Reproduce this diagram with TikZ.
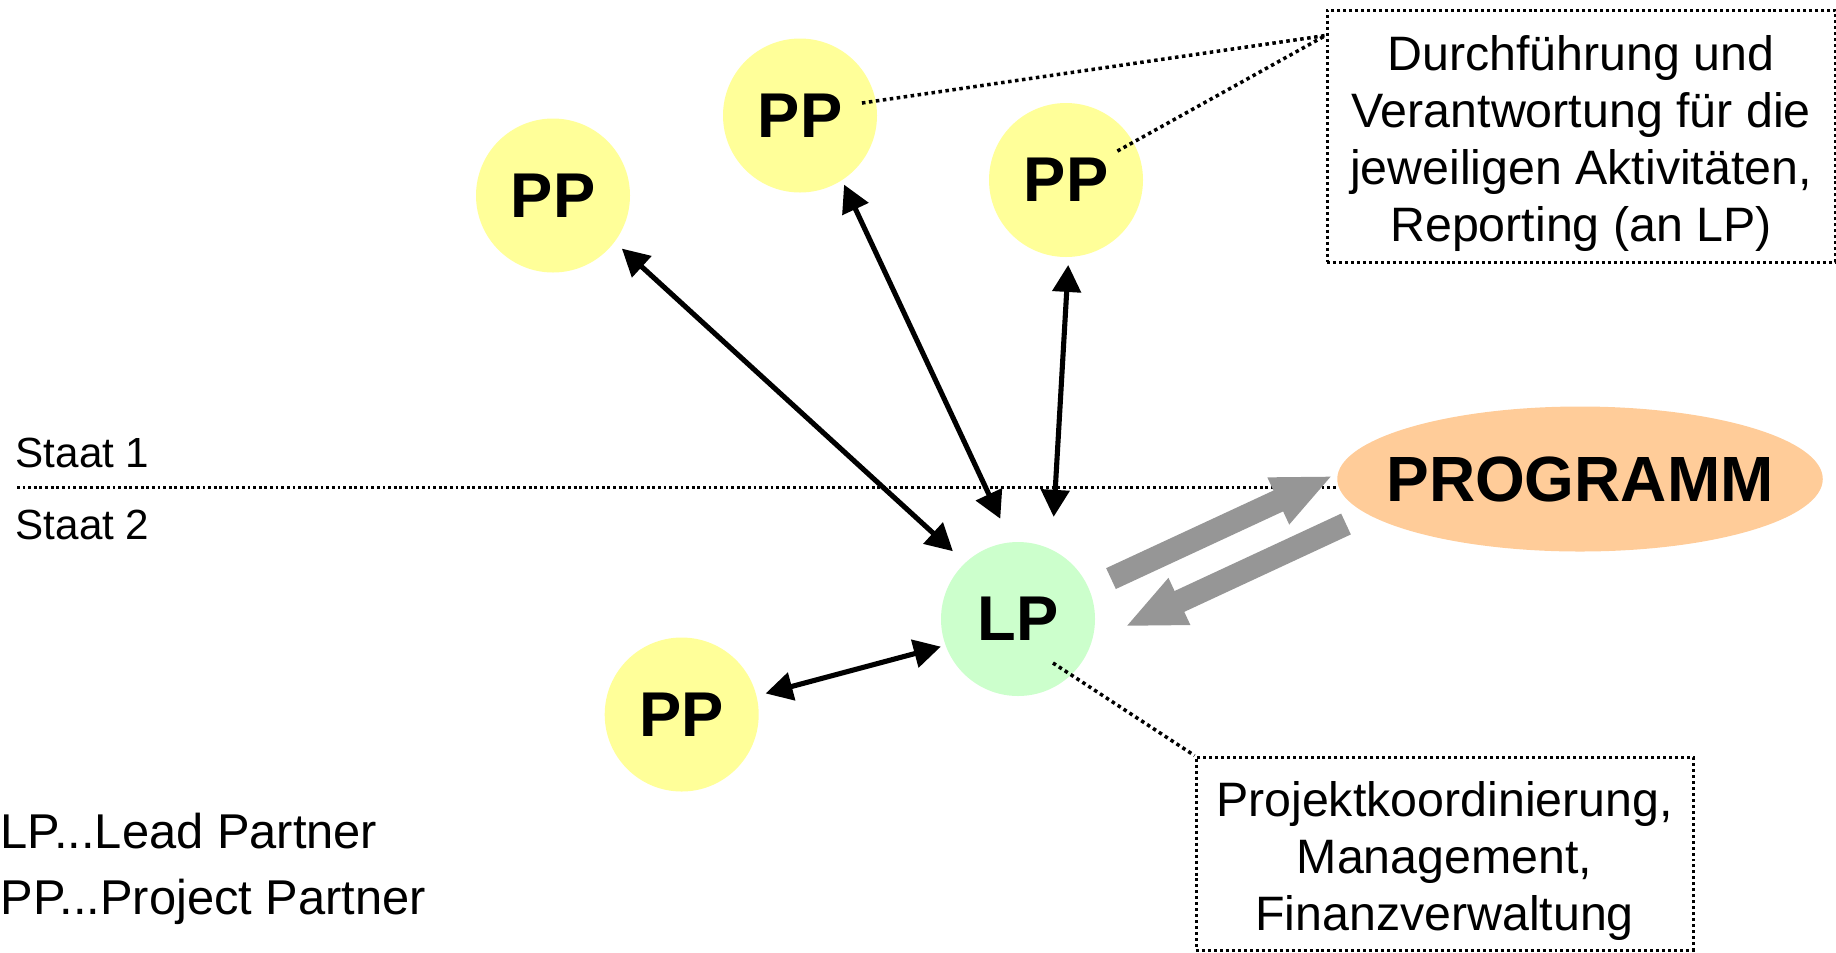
\documentclass[tikz,border=0pt]{standalone}
\usepackage{fontspec}
\setmainfont{Liberation Sans}
\usepackage{xcolor}
\usepackage{tikz}
\usetikzlibrary{positioning, shapes, arrows.meta}
\definecolor{ppyellow}{RGB}{255,255,153}
\definecolor{lpgreen}{RGB}{204,255,204}
\definecolor{progorange}{RGB}{255,204,153}
\definecolor{arrowgray}{RGB}{150,150,150}

\begin{document}
\begin{tikzpicture}[
    pp/.style={circle, fill=ppyellow, minimum size=1.54cm, inner sep=0pt, outer sep=0pt, font=\fontsize{18}{21}\selectfont\bfseries},
    lp/.style={pp, fill=lpgreen},
    prog/.style={ellipse, fill=progorange, minimum width=4.8cm, minimum height=1.45cm, inner xsep=-0.22cm, inner ysep=0pt, outer sep=0pt, font=\fontsize{18.2}{21}\selectfont\bfseries},
    infobox/.style={draw, line width=0.85pt, dash pattern=on 0.85pt off 0.85pt, align=center, inner sep=0pt, font=\fontsize{13.75}{16.3}\selectfont},
    legend/.style={inner sep=0pt, anchor=base west, font=\fontsize{13.9}{16.3}\selectfont},
    staat/.style={inner sep=0pt, anchor=base west, font=\fontsize{12}{14}\selectfont},
    arrow/.style={<->, >={Triangle[length=0.27cm, width=0.28cm]}, line width=1.45pt},
    bigarrow/.style={-{Triangle[length=0.6cm, width=0.47cm]}, line width=0.23cm, draw=arrowgray},
    callout/.style={line width=1pt, dash pattern=on 1pt off 1pt},
    border/.style={line width=0.8pt, dash pattern=on 0.8pt off 0.8pt}
]
    \useasboundingbox (0,0) rectangle (18.36,-9.52);

    % Partners
    \node[pp] (pp1) at (5.53, -1.955) {PP};
    \node[pp] (pp2) at (8.00, -1.155) {PP};
    \node[pp] (pp3) at (10.66, -1.80) {PP};
    \node[pp] (pp4) at (6.817, -7.145) {PP};
    \node[lp] (lp) at (10.18, -6.19) {LP};

    % Programme
    \node[prog] (prog) at (15.80, -4.79) {PROGRAMM};

    % State border
    \node[staat] (staat1) at (0.15, -4.675) {Staat 1};
    \node[staat] (staat2) at (0.15, -5.39) {Staat 2};
    \coordinate (sepL) at (0.17, -4.875);
    \draw[border] (sepL) -- (sepL -| prog.west);

    % Text boxes
    \node[infobox, minimum width=5.08cm, minimum height=2.52cm] (box1) at (15.81, -1.36)
        {\rule{0pt}{0.5cm}Durchführung und\\Verantwortung für die\\jeweiligen Aktivitäten,\\Reporting (an LP)};
    \node[infobox, minimum width=4.97cm, minimum height=1.93cm] (box2) at (14.445, -8.535)
        {\rule{0pt}{0.5cm}Projektkoordinierung,\\Management,\\Finanzverwaltung};

    % Legend
    \node[legend] (leglp) at (0, -8.485) {LP...Lead Partner};
    \node[legend] (legpp) at (0, -9.14) {PP...Project Partner};

    % Arrows between LP and PPs
    \draw[arrow, shorten <=0.10cm, shorten >=0.17cm] (pp1.-37) -- (lp.133);
    \draw[arrow, shorten <=0.05cm, shorten >=0.26cm] (pp2.-57) -- (lp.95);
    \draw[arrow, shorten <=0.08cm, shorten >=0.33cm] (pp3.-88.5) -- (lp.64.5);
    \draw[arrow, shorten <=0.095cm, shorten >=0.05cm] (pp4.14) -- (lp.-160);

    % LP <-> programme
    \draw[bigarrow] ([shift={(23.5:1.014)}]lp.center) -- ([shift={(-2.473,0.033)}]prog.center);
    \draw[bigarrow] ([shift={(-2.34,-0.45)}]prog.center) -- ([shift={(1.07,-0.077)}]lp.center);

    % Callouts
    \draw[callout] ([shift={(11.4:0.632)}]pp2.center) -- ([yshift=-0.27cm]box1.north west);
    \draw[callout] ([shift={(29.4:0.59)}]pp3.center) -- ([yshift=-0.27cm]box1.north west);
    \draw[callout] ([shift={(-51.5:0.562)}]lp.center) -- (box2.north west);

\end{tikzpicture}
\end{document}
